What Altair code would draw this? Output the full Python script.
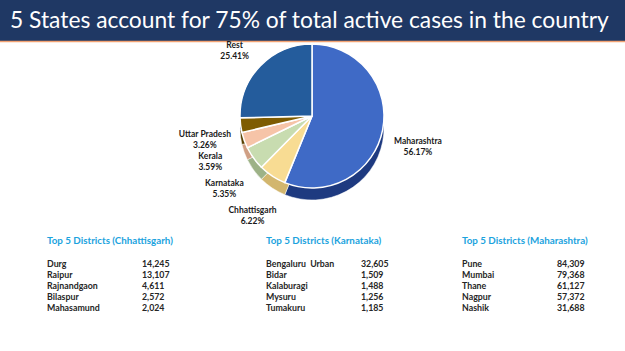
import altair as alt
import pandas as pd

# ---------------- data ----------------
states = ["Maharashtra", "Chhattisgarh", "Karnataka", "Kerala", "Uttar Pradesh", "Rest"]
shares = [56.17, 6.22, 5.35, 3.59, 3.26, 25.41]
top_colors = ["#3F6AC6", "#F8DC93", "#C8DCB0", "#F6C4A8", "#7E5C02", "#245C9C"]
side_colors = ["#1E3A80", "#D2B66E", "#9DB287", "#CF9F84", "#574000", "#173E6C"]

title_text = "5 States account for 75% of total active cases in the country"

table_titles = ["Top 5 Districts (Chhattisgarh)", "Top 5 Districts (Karnataka)", "Top 5 Districts (Maharashtra)"]
chh_districts = ["Durg", "Raipur", "Rajnandgaon", "Bilaspur", "Mahasamund"]
chh_cases = ["14,245", "13,107", "4,611", "2,572", "2,024"]
kar_districts = ["Bengaluru\u00a0 Urban", "Bidar", "Kalaburagi", "Mysuru", "Tumakuru"]
kar_cases = ["32,605", "1,509", "1,488", "1,256", "1,185"]
mah_districts = ["Pune", "Mumbai", "Thane", "Nagpur", "Nashik"]
mah_cases = ["84,309", "79,368", "61,127", "57,372", "31,688"]

# ---------------- tables ----------------
pie_df = pd.DataFrame({
    "state": states,
    "share": shares,
    "idx": list(range(len(states))),
    "label": [f"{s}\n{v:.2f}%" for s, v in zip(states, shares)],
})

W, H = 625, 351
CX, CY, R = 312, 116, 72
FONT = "Lato"

# ---------------- banner ----------------
banner = alt.Chart(pd.DataFrame({"a": [0]})).mark_rect(color="#1F3864").encode(
    x=alt.value(0), x2=alt.value(W), y=alt.value(0), y2=alt.value(41)
)
orange = alt.Chart(pd.DataFrame({"a": [0]})).mark_rule(color="#F2A272", strokeWidth=1.5).encode(
    x=alt.value(0), x2=alt.value(W), y=alt.value(41.5)
)
title = alt.Chart(pd.DataFrame({"t": [title_text]})).mark_text(
    align="left", baseline="middle", font=FONT, fontSize=22.8, color="white"
).encode(x=alt.value(10), y=alt.value(21), text="t:N")

# ---------------- pie ----------------
base_pie = alt.Chart(pie_df)
side = base_pie.mark_arc(outerRadius=R, stroke="white", strokeWidth=0.5).encode(
    theta=alt.Theta("share:Q", stack=True),
    order=alt.Order("idx:Q"),
    color=alt.Color("state:N", scale=alt.Scale(domain=states, range=side_colors), legend=None),
    x=alt.value(CX), y=alt.value(CY + 12),
)
top = base_pie.mark_arc(outerRadius=R, stroke="white", strokeWidth=1.5).encode(
    theta=alt.Theta("share:Q", stack=True),
    order=alt.Order("idx:Q"),
    color=alt.Color("state:N", scale=alt.Scale(domain=states, range=top_colors), legend=None),
    x=alt.value(CX), y=alt.value(CY),
)
pie = alt.layer(side, top).resolve_scale(color="independent")
labels = base_pie.mark_text(
    radius=R + 36, font=FONT, fontSize=8.5, fontWeight="bold", color="#1a1a1a",
    lineBreak="\n", align="center", baseline="middle", lineHeight=11
).encode(
    theta=alt.Theta("share:Q", stack=True),
    order=alt.Order("idx:Q"),
    text="label:N",
    x=alt.value(CX), y=alt.value(CY + 4),
)

# ---------------- district tables ----------------
yscale = alt.Scale(domain=[0, 4], range=[264, 307.5])
table_layers = []
for title_t, names, vals, x0 in [
    (table_titles[0], chh_districts, chh_cases, 47),
    (table_titles[1], kar_districts, kar_cases, 266),
    (table_titles[2], mah_districts, mah_cases, 462),
]:
    df = pd.DataFrame({"row": list(range(len(names))), "name": names, "value": vals})
    head = alt.Chart(pd.DataFrame({"title": [title_t]})).mark_text(
        align="left", baseline="middle", font=FONT, fontSize=9.8, fontWeight="bold", color="#1CA3DE"
    ).encode(x=alt.value(x0), y=alt.value(241), text="title:N")
    nm = alt.Chart(df).mark_text(
        align="left", baseline="middle", font=FONT, fontSize=8.8, fontWeight="bold", color="#262626"
    ).encode(
        x=alt.value(x0),
        y=alt.Y("row:Q", scale=yscale, axis=None),
        text="name:N",
    )
    vl = alt.Chart(df).mark_text(
        align="left", baseline="middle", font=FONT, fontSize=8.8, fontWeight="bold", color="#262626"
    ).encode(
        x=alt.value(x0 + 95),
        y=alt.Y("row:Q", scale=yscale, axis=None),
        text="value:N",
    )
    table_layers += [head, nm, vl]

chart = alt.layer(banner, orange, title, pie, labels, *table_layers).resolve_scale(
    color="independent"
).properties(
    width=W, height=H, padding=0, autosize="none", background="white"
).configure_view(strokeWidth=0)

chart.save("out.html", embed_options={"renderer": "svg", "actions": False})
